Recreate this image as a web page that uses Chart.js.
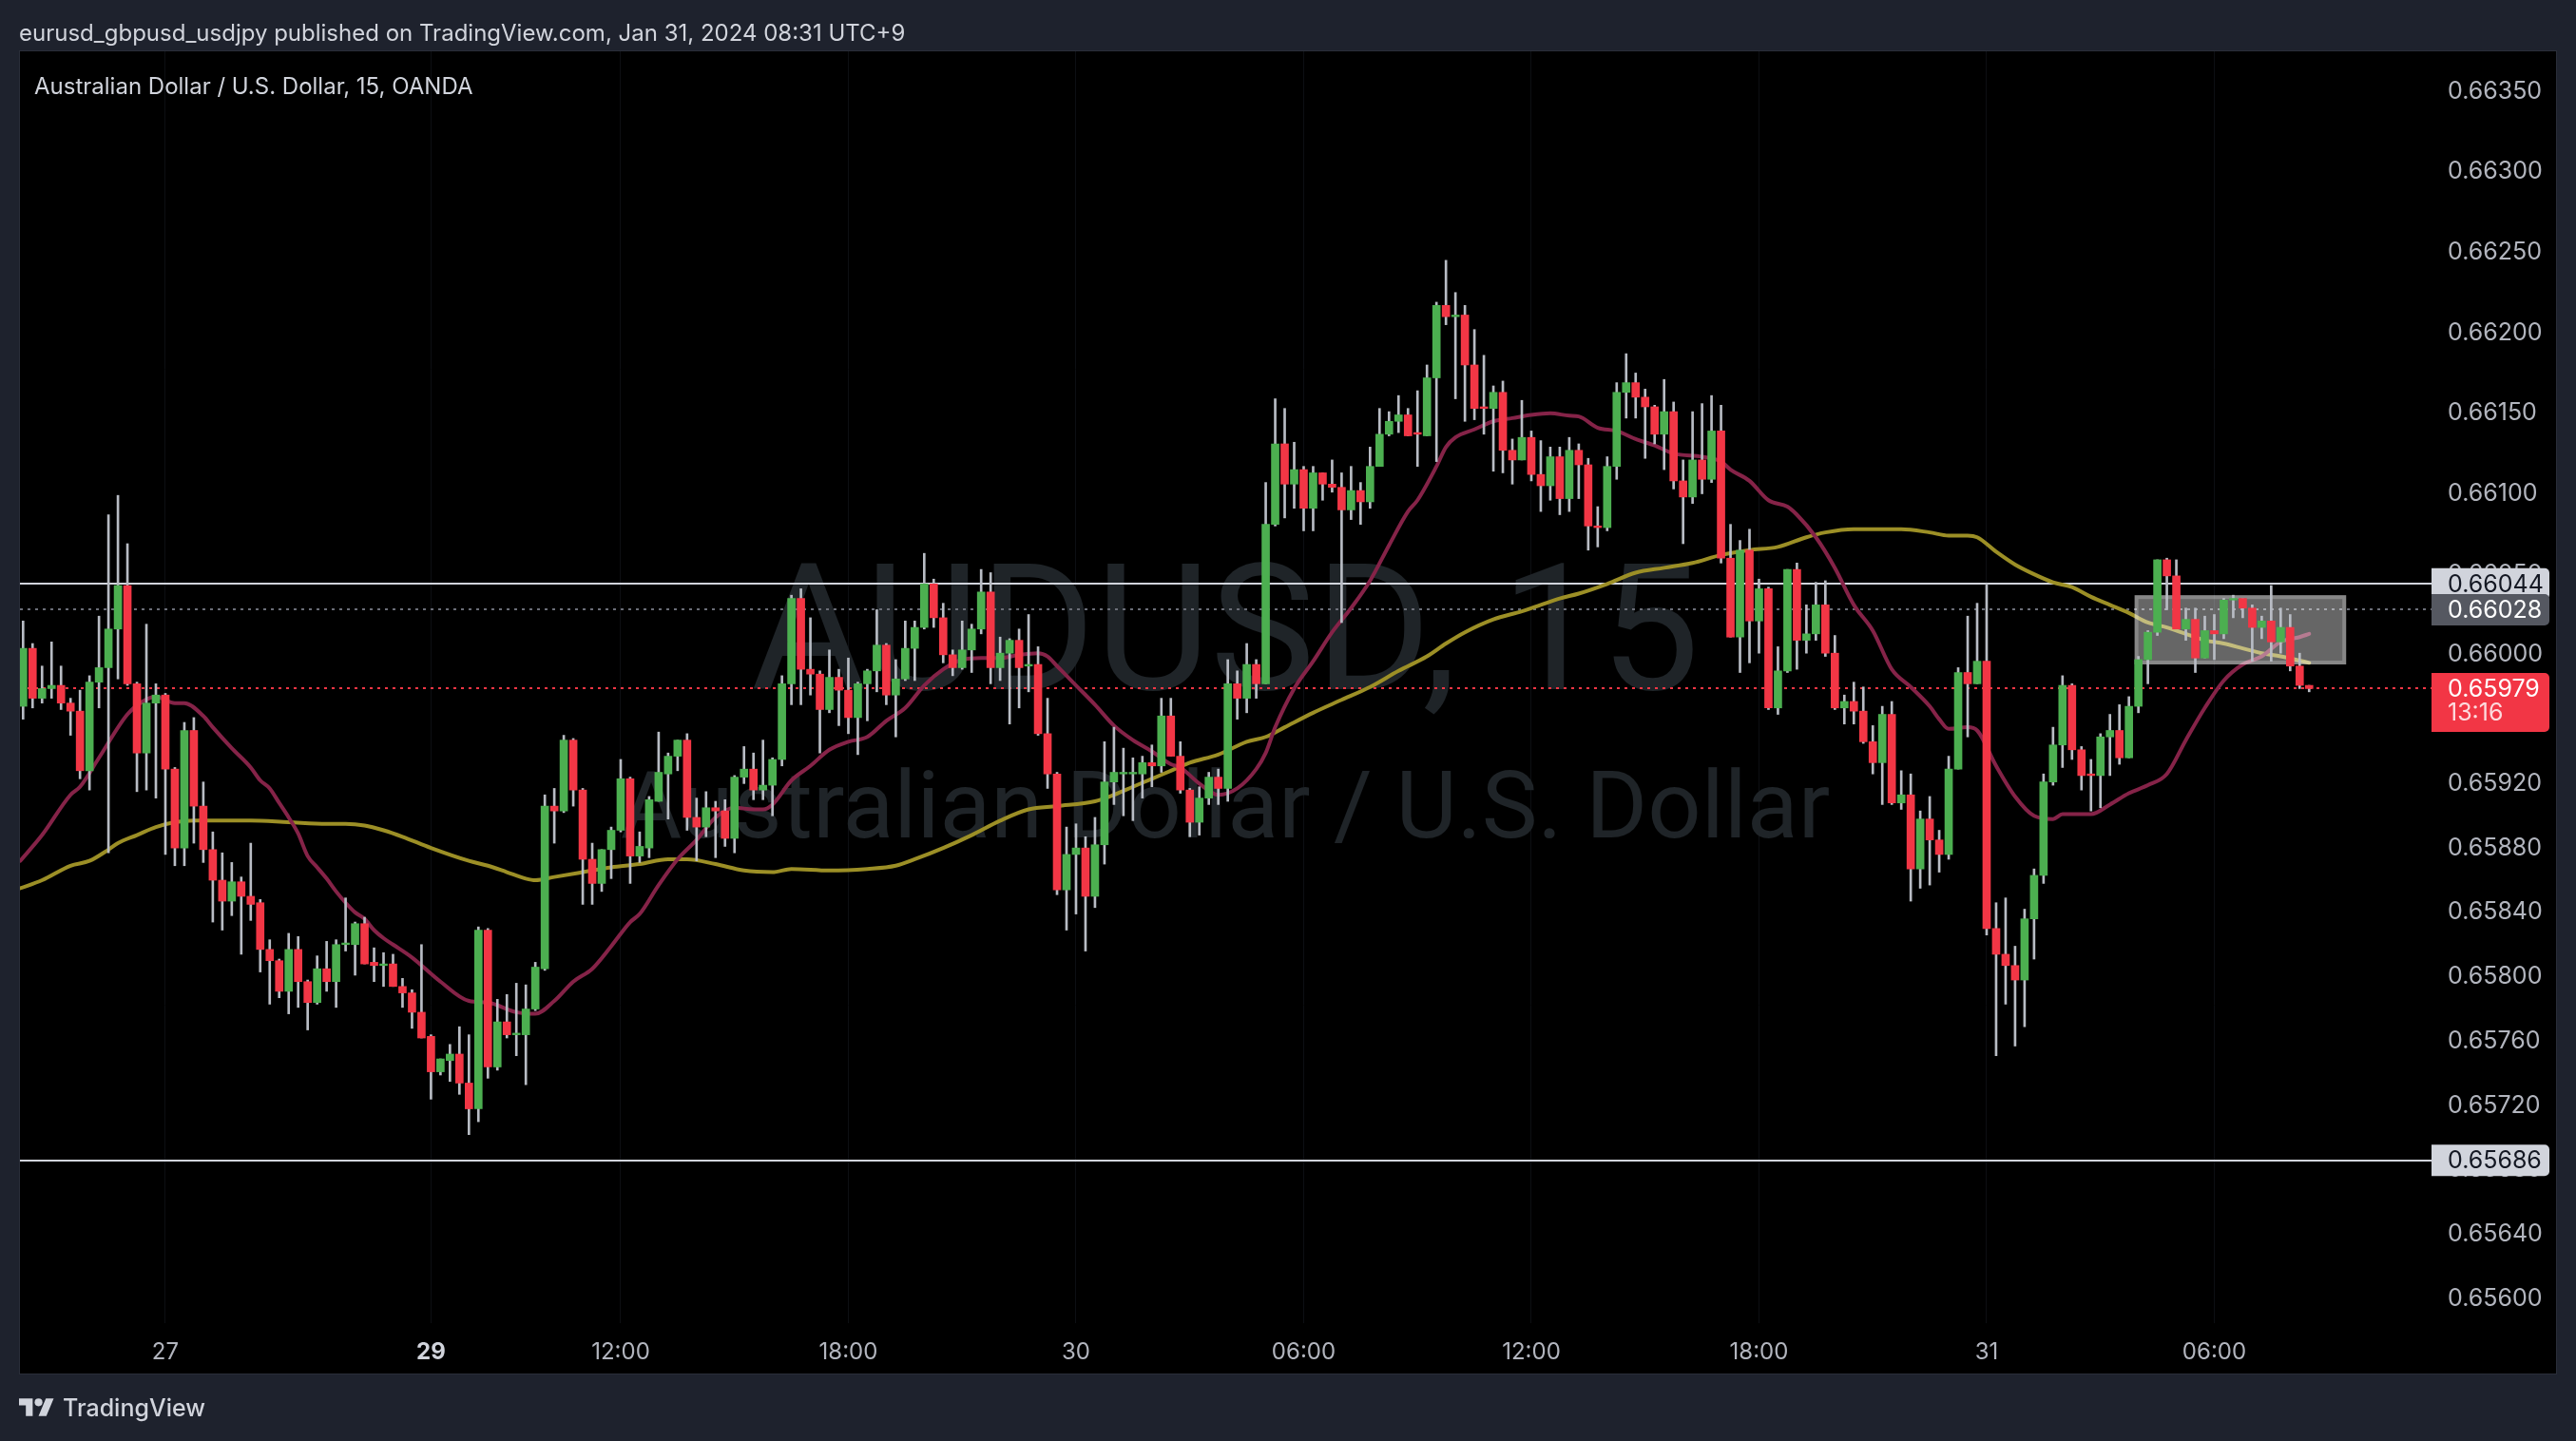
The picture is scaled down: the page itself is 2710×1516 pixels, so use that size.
<!DOCTYPE html>
<html><head><meta charset="utf-8">
<script src="https://cdn.jsdelivr.net/npm/chart.js@4.4.1/dist/chart.umd.min.js"></script>
<style>
html,body{margin:0;padding:0;background:#1e222d;width:2710px;height:1516px;overflow:hidden;font-family:Inter,'Noto Sans',sans-serif;}
#wrap{position:absolute;left:0;top:0;width:2710px;height:1516px;}
canvas{position:absolute;left:0;top:0;}
#hdr{position:absolute;left:20px;top:20px;font-size:24px;color:#d1d4dc;line-height:29px;white-space:nowrap;}
#ttl{position:absolute;left:36px;top:76px;font-size:24px;color:#d1d4dc;line-height:29px;white-space:nowrap;}
#ftr{position:absolute;left:20px;top:1466px;height:30px;display:flex;align-items:center;color:#d1d4dc;font-size:25px;font-weight:500;}
</style></head>
<body>
<div id="wrap">
<canvas id="c" width="2710" height="1516"></canvas>
<div id="hdr">eurusd_gbpusd_usdjpy published on TradingView.com, Jan 31, 2024 08:31 UTC+9</div>
<div id="ttl">Australian Dollar / U.S. Dollar, 15, OANDA</div>
<div id="ftr"><svg width="37" height="29" viewBox="0 0 36 28"><path fill="#d1d4dc" d="M14 22H7V11H0V4h14v18zM28 22h-8l7.5-18h8L28 22z"/><circle fill="#d1d4dc" cx="20" cy="8" r="4"/></svg><span style="margin-left:9px">TradingView</span></div>
</div>
<script>
// ---- time axis ----
const tickIdx = [16, 44, 64, 88, 112, 136, 160, 184, 208, 232];
const tickLabels = ['27', '29', '12:00', '18:00', '30', '06:00', '12:00', '18:00', '31', '06:00'];
// ---- price axis ----
const priceTicks = [0.6635,0.663,0.6625,0.662,0.6615,0.661,0.6605,0.66,0.6596,0.6592,0.6588,0.6584,0.658,0.6576,0.6572,0.6568,0.6564,0.656];

// ---- AUDUSD 15m candles (bar 1 .. 242) ----
const opens = [
0.65968,0.66004,0.65973,0.65979,0.65981,0.65970,0.65965,0.65928,0.65983,0.65992,
0.66016,0.66043,0.65982,0.65939,0.65970,0.65975,0.65929,0.65880,0.65953,0.65906,
0.65879,0.65860,0.65847,0.65859,0.65850,0.65846,0.65817,0.65810,0.65791,0.65817,
0.65797,0.65784,0.65805,0.65797,0.65820,0.65820,0.65833,0.65809,0.65807,0.65808,
0.65794,0.65790,0.65778,0.65763,0.65741,0.65748,0.65752,0.65734,0.65718,0.65829,
0.65744,0.65772,0.65764,0.65764,0.65780,0.65805,0.65906,0.65903,0.65947,0.65916,
0.65873,0.65858,0.65879,0.65891,0.65923,0.65875,0.65880,0.65909,0.65926,0.65937,
0.65947,0.65899,0.65893,0.65905,0.65903,0.65886,0.65924,0.65929,0.65916,0.65919,
0.65935,0.65982,0.66035,0.65991,0.65988,0.65966,0.65986,0.65978,0.65961,0.65982,
0.65990,0.66006,0.65975,0.65985,0.66004,0.66017,0.66044,0.66023,0.66000,0.65992,
0.66003,0.66016,0.66039,0.65992,0.66001,0.66009,0.65993,0.65994,0.65951,0.65926,
0.65854,0.65876,0.65880,0.65850,0.65882,0.65921,0.65926,0.65926,0.65926,0.65933,
0.65931,0.65962,0.65937,0.65916,0.65896,0.65911,0.65924,0.65917,0.65982,0.65973,
0.65994,0.65982,0.66081,0.66131,0.66106,0.66115,0.66091,0.66113,0.66106,0.66104,
0.66090,0.66102,0.66095,0.66117,0.66137,0.66145,0.66149,0.66138,0.66136,0.66172,
0.66217,0.66210,0.66211,0.66180,0.66154,0.66153,0.66163,0.66127,0.66121,0.66135,
0.66112,0.66105,0.66123,0.66097,0.66127,0.66118,0.66080,0.66079,0.66117,0.66163,
0.66169,0.66160,0.66154,0.66137,0.66151,0.66108,0.66098,0.66121,0.66109,0.66139,
0.66060,0.66011,0.66065,0.66021,0.66041,0.65967,0.65990,0.66053,0.66009,0.66013,
0.66031,0.66001,0.65967,0.65971,0.65965,0.65946,0.65933,0.65963,0.65908,0.65913,
0.65867,0.65898,0.65885,0.65876,0.65929,0.65989,0.65982,0.65996,0.65830,0.65814,
0.65807,0.65798,0.65836,0.65863,0.65921,0.65944,0.65981,0.65941,0.65926,0.65925,
0.65949,0.65953,0.65936,0.65968,0.65997,0.66014,0.66059,0.66049,0.66016,0.66022,
0.65998,0.66015,0.66013,0.66034,0.66035,0.66029,0.66017,0.66021,0.66008,0.66017,
0.65993,0.65981];
const highs = [
0.66021,0.66007,0.65993,0.66008,0.65993,0.65973,0.65978,0.65987,0.66024,0.66087,
0.66099,0.66069,0.65983,0.66019,0.65982,0.65976,0.65930,0.65958,0.65961,0.65921,
0.65890,0.65877,0.65871,0.65862,0.65883,0.65848,0.65823,0.65811,0.65827,0.65825,
0.65798,0.65813,0.65822,0.65823,0.65849,0.65834,0.65837,0.65818,0.65815,0.65814,
0.65799,0.65792,0.65820,0.65764,0.65749,0.65758,0.65769,0.65764,0.65831,0.65830,
0.65786,0.65789,0.65796,0.65795,0.65809,0.65913,0.65917,0.65950,0.65948,0.65917,
0.65883,0.65879,0.65893,0.65935,0.65924,0.65890,0.65912,0.65952,0.65939,0.65947,
0.65951,0.65911,0.65915,0.65909,0.65910,0.65925,0.65943,0.65939,0.65947,0.65936,
0.65987,0.66037,0.66041,0.66023,0.65990,0.66003,0.65991,0.65998,0.65983,0.65991,
0.66028,0.66007,0.65997,0.66021,0.66021,0.66063,0.66047,0.66032,0.66003,0.66021,
0.66019,0.66053,0.66051,0.66011,0.66010,0.66016,0.66025,0.66005,0.65973,0.65927,
0.65893,0.65895,0.65887,0.65899,0.65946,0.65955,0.65942,0.65936,0.65937,0.65944,
0.65973,0.65973,0.65946,0.65917,0.65918,0.65927,0.65929,0.65997,0.65990,0.66007,
0.65997,0.66107,0.66159,0.66153,0.66132,0.66117,0.66117,0.66113,0.66121,0.66113,
0.66117,0.66107,0.66129,0.66153,0.66151,0.66161,0.66153,0.66164,0.66180,0.66219,
0.66245,0.66225,0.66217,0.66202,0.66186,0.66167,0.66170,0.66134,0.66158,0.66139,
0.66133,0.66129,0.66129,0.66135,0.66131,0.66122,0.66092,0.66123,0.66169,0.66187,
0.66175,0.66165,0.66155,0.66171,0.66157,0.66121,0.66151,0.66156,0.66161,0.66155,
0.66081,0.66071,0.66078,0.66047,0.66042,0.66005,0.66053,0.66057,0.66031,0.66045,
0.66046,0.66012,0.65975,0.65983,0.65980,0.65956,0.65968,0.65971,0.65928,0.65926,
0.65903,0.65912,0.65891,0.65937,0.65992,0.66024,0.66032,0.66044,0.65846,0.65849,
0.65819,0.65842,0.65867,0.65926,0.65955,0.65987,0.65982,0.65943,0.65935,0.65951,
0.65963,0.65969,0.65974,0.65999,0.66015,0.66059,0.66060,0.66059,0.66029,0.66029,
0.66024,0.66025,0.66035,0.66037,0.66035,0.66031,0.66024,0.66043,0.66029,0.66025,
0.66001,0.65981];
const lows = [
0.65960,0.65967,0.65970,0.65973,0.65966,0.65950,0.65923,0.65916,0.65967,0.65877,
0.65985,0.65981,0.65915,0.65916,0.65911,0.65876,0.65869,0.65869,0.65883,0.65871,
0.65834,0.65829,0.65838,0.65814,0.65835,0.65803,0.65783,0.65787,0.65777,0.65781,
0.65767,0.65783,0.65791,0.65781,0.65816,0.65801,0.65808,0.65797,0.65794,0.65794,
0.65781,0.65768,0.65762,0.65724,0.65739,0.65735,0.65727,0.65702,0.65710,0.65737,
0.65742,0.65762,0.65751,0.65733,0.65779,0.65804,0.65883,0.65902,0.65906,0.65845,
0.65845,0.65853,0.65861,0.65890,0.65858,0.65871,0.65874,0.65909,0.65898,0.65928,
0.65891,0.65872,0.65887,0.65874,0.65881,0.65877,0.65920,0.65910,0.65910,0.65900,
0.65931,0.65969,0.65969,0.65975,0.65939,0.65964,0.65956,0.65951,0.65938,0.65959,
0.65977,0.65969,0.65949,0.65984,0.65984,0.66016,0.66017,0.65995,0.65987,0.65991,
0.65989,0.66013,0.65982,0.65984,0.65957,0.65967,0.65977,0.65950,0.65917,0.65851,
0.65829,0.65839,0.65816,0.65843,0.65870,0.65907,0.65900,0.65897,0.65911,0.65918,
0.65927,0.65937,0.65914,0.65887,0.65888,0.65907,0.65907,0.65909,0.65960,0.65964,
0.65973,0.65982,0.66080,0.66085,0.66091,0.66077,0.66077,0.66096,0.66101,0.66020,
0.66084,0.66081,0.66091,0.66117,0.66136,0.66138,0.66136,0.66117,0.66136,0.66120,
0.66205,0.66159,0.66145,0.66146,0.66137,0.66114,0.66113,0.66106,0.66121,0.66108,
0.66089,0.66096,0.66087,0.66089,0.66097,0.66065,0.66067,0.66077,0.66109,0.66147,
0.66147,0.66122,0.66131,0.66115,0.66103,0.66069,0.66094,0.66100,0.66107,0.66057,
0.66011,0.65989,0.65995,0.66001,0.65966,0.65963,0.65989,0.65991,0.66001,0.66009,
0.65999,0.65966,0.65957,0.65957,0.65945,0.65926,0.65907,0.65907,0.65904,0.65847,
0.65855,0.65857,0.65865,0.65873,0.65929,0.65949,0.65982,0.65826,0.65751,0.65783,
0.65757,0.65769,0.65811,0.65858,0.65919,0.65930,0.65935,0.65916,0.65903,0.65905,
0.65925,0.65932,0.65936,0.65964,0.65982,0.66012,0.66028,0.66016,0.66009,0.65989,
0.65998,0.65997,0.66010,0.66023,0.66023,0.65996,0.66010,0.65996,0.66001,0.65990,
0.65979,0.65977];
const closes = [
0.66004,0.65973,0.65979,0.65981,0.65970,0.65965,0.65928,0.65983,0.65992,0.66016,
0.66043,0.65982,0.65939,0.65970,0.65975,0.65929,0.65880,0.65953,0.65906,0.65879,
0.65860,0.65847,0.65859,0.65850,0.65845,0.65817,0.65810,0.65791,0.65817,0.65797,
0.65784,0.65805,0.65797,0.65820,0.65821,0.65833,0.65808,0.65807,0.65808,0.65794,
0.65790,0.65778,0.65762,0.65741,0.65749,0.65752,0.65734,0.65718,0.65829,0.65744,
0.65772,0.65764,0.65765,0.65780,0.65806,0.65906,0.65903,0.65947,0.65916,0.65873,
0.65858,0.65879,0.65891,0.65923,0.65875,0.65881,0.65910,0.65927,0.65937,0.65947,
0.65899,0.65893,0.65905,0.65903,0.65886,0.65924,0.65929,0.65916,0.65919,0.65935,
0.65982,0.66035,0.65991,0.65988,0.65966,0.65986,0.65978,0.65961,0.65982,0.65990,
0.66006,0.65975,0.65985,0.66004,0.66017,0.66044,0.66023,0.66000,0.65992,0.66003,
0.66016,0.66039,0.65992,0.66001,0.66009,0.65992,0.65994,0.65951,0.65926,0.65854,
0.65876,0.65880,0.65850,0.65882,0.65921,0.65927,0.65927,0.65927,0.65933,0.65931,
0.65962,0.65937,0.65916,0.65896,0.65911,0.65924,0.65917,0.65982,0.65973,0.65994,
0.65982,0.66081,0.66131,0.66106,0.66115,0.66091,0.66113,0.66106,0.66104,0.66090,
0.66102,0.66095,0.66117,0.66137,0.66145,0.66149,0.66136,0.66137,0.66172,0.66217,
0.66210,0.66211,0.66180,0.66153,0.66153,0.66163,0.66127,0.66121,0.66135,0.66112,
0.66105,0.66123,0.66097,0.66127,0.66118,0.66080,0.66079,0.66117,0.66163,0.66169,
0.66160,0.66154,0.66137,0.66151,0.66108,0.66098,0.66121,0.66109,0.66139,0.66060,
0.66011,0.66065,0.66021,0.66041,0.65967,0.65990,0.66053,0.66009,0.66013,0.66031,
0.66001,0.65967,0.65971,0.65965,0.65946,0.65933,0.65963,0.65908,0.65913,0.65867,
0.65898,0.65885,0.65876,0.65929,0.65989,0.65982,0.65996,0.65830,0.65814,0.65807,
0.65798,0.65836,0.65863,0.65921,0.65944,0.65981,0.65941,0.65925,0.65925,0.65949,
0.65953,0.65936,0.65968,0.65997,0.66014,0.66059,0.66049,0.66016,0.66022,0.65998,
0.66015,0.66013,0.66034,0.66035,0.66029,0.66017,0.66021,0.66008,0.66017,0.65993,
0.65981,0.65979];

// ---- moving averages: [bar, value] ----
const maShort = [
[0.7,0.65872],[3,0.65888],[6,0.65913],[7,0.65918],[9,0.65936],[12,0.65963],[13.6,0.65971],[15,0.65974],[17,0.65970],[18,0.65970],
[20,0.65962],[21,0.65955],[23,0.65942],[25,0.65930],[26,0.65922],[27,0.65917],[28,0.65908],[29,0.65899],[30,0.65889],[31,0.65875],
[32,0.65868],[33,0.65861],[34,0.65853],[35,0.65846],[36,0.65840],[37,0.65836],[38,0.65829],[39,0.65824],[40,0.65820],[42,0.65812],
[45,0.65797],[48,0.65785],[50,0.65784],[53,0.65778],[55,0.65777],[57,0.65785],[59,0.65797],[61,0.65805],[63,0.65819],[65,0.65834],
[66,0.65839],[68,0.65857],[70,0.65873],[72,0.65885],[74,0.65899],[76,0.65905],[78,0.65904],[79,0.65904],[80,0.65907],[82,0.65922],
[84,0.65931],[86,0.65941],[88,0.65946],[90,0.65949],[92,0.65959],[94,0.65967],[96,0.65981],[98,0.65991],[100,0.65997],[102,0.65998],
[104,0.65998],[106,0.66000],[108,0.66001],[109,0.65999],[110,0.65993],[112,0.65981],[114,0.65969],[116,0.65956],[118,0.65947],[120,0.65940],
[122,0.65932],[123,0.65930],[125,0.65920],[127,0.65913],[129,0.65917],[131,0.65929],[132,0.65939],[133,0.65955],[135,0.65979],[137,0.65996],
[139,0.66014],[141,0.66029],[143,0.66046],[145,0.66068],[147,0.66089],[148,0.66096],[150,0.66117],[151,0.66129],[152,0.66135],[154,0.66140],
[156,0.66145],[158,0.66147],[160,0.66149],[162,0.66150],[164,0.661485],[165,0.66148],[167,0.66141],[169,0.66139],[171,0.66134],[173,0.66130],
[175,0.66125],[178,0.66123],[180,0.66120],[181,0.66115],[183,0.66108],[185,0.66096],[187,0.66092],[188,0.66087],[190,0.66073],[192,0.66054],
[194,0.66031],[196,0.66015],[198,0.65991],[200,0.65980],[202,0.65968],[203,0.65960],[204,0.65954],[206,0.65955],[207,0.65953],[209,0.65931],
[211,0.65912],[213,0.65900],[215,0.65898],[216,0.65901],[219,0.65901],[221,0.65907],[223,0.65914],[225,0.65919],[227,0.65926],[229,0.65947],
[231,0.65967],[233,0.65984],[235,0.65994],[237,0.65999],[239,0.66008],[241,0.66011],[242,0.66013]];
const maLong = [
[0.7,0.65855],[3,0.65860],[6,0.65869],[8,0.65872],[10,0.65879],[11,0.65883],[13,0.65888],[15,0.65893],[17,0.65896],[19,0.65897],
[21,0.65897],[25,0.65897],[29,0.65896],[33,0.65895],[35,0.65895],[37,0.65894],[39,0.65891],[41,0.65887],[44,0.65880],[48,0.65872],
[50,0.65869],[52,0.65865],[54,0.65861],[55,0.65860],[57,0.65862],[60,0.65865],[63,0.65868],[66,0.65870],[69,0.65873],[71,0.65873],
[74,0.65870],[77,0.65866],[80,0.65865],[82,0.65867],[86,0.65866],[90,0.65867],[93,0.65869],[95,0.65873],[98,0.65880],[101,0.65888],
[104,0.65897],[107,0.65904],[110,0.65906],[114,0.65909],[116,0.65913],[118,0.65918],[120,0.65923],[122,0.65928],[124,0.65933],[127,0.65938],
[130,0.65946],[132,0.65949],[134,0.65955],[137,0.65964],[140,0.65972],[143,0.65980],[146,0.65990],[149,0.65999],[151,0.66007],[153,0.66014],
[156,0.66022],[159,0.66027],[161,0.66031],[163,0.66035],[165,0.66038],[168,0.66044],[171,0.66051],[174,0.66054],[177,0.66057],[180,0.66062],
[183,0.66065],[186,0.66067],[189,0.66073],[191,0.66076],[194,0.66078],[197,0.66078],[199,0.66078],[202,0.66076],[204,0.66074],[206,0.66074],
[207,0.66073],[209,0.66064],[211,0.66056],[213,0.66050],[215,0.66045],[217,0.66042],[219,0.66036],[221,0.66031],[223,0.66026],[225,0.66020],
[227,0.66017],[229,0.66013],[231,0.66009],[233,0.66007],[235,0.66004],[237,0.66001],[239,0.65999],[242,0.65995]];

// ---- drawings ----
const levelSolid = [0.66044, 0.65686];
const levelGray = 0.66028;
const lastPrice = 0.65979;
const countdown = '13:16';
const boxBars = [223.6, 245.9];
const boxPrices = [0.66037, 0.65994];
const watermarkMain = 'AUDUSD, 15';
const watermarkSub = 'Australian Dollar / U.S. Dollar';

const UP = '#4caf50', DOWN = '#f23645';
const bars = opens.map((o, i) => i + 1);
const bodyColors = opens.map((o, i) => closes[i] >= o ? UP : DOWN);

const tvPlugin = {
  id: 'tv',
  beforeDraw(chart) {
    const ctx = chart.ctx, ca = chart.chartArea;
    ctx.save();
    ctx.fillStyle = '#1e222d';
    ctx.fillRect(0, 0, chart.width, chart.height);
    const L = ca.left, T = ca.top, R = chart.width - 21, B = chart.height - 71;
    ctx.fillStyle = '#000000';
    ctx.fillRect(L, T, R - L, B - T);
    ctx.strokeStyle = '#2a2e39';
    ctx.lineWidth = 1;
    ctx.strokeRect(L - 0.5, T - 0.5, R - L + 1, B - T + 1);
    ctx.restore();
  },
  beforeDatasetsDraw(chart) {
    const ctx = chart.ctx, ca = chart.chartArea, y = chart.scales.y;
    ctx.save();
    const cx = (ca.left + ca.right) / 2;
    ctx.fillStyle = '#1f2428';
    ctx.textAlign = 'center';
    ctx.textBaseline = 'alphabetic';
    ctx.font = '186px Roboto';
    ctx.fillText(watermarkMain, cx, 725);
    ctx.font = '99px Roboto';
    ctx.fillText(watermarkSub, cx, 881);
    const x0 = ca.left, x1 = ca.right + 1;
    ctx.lineWidth = 2;
    ctx.strokeStyle = '#d1d4dc';
    levelSolid.forEach(v => {
      const py = Math.round(y.getPixelForValue(v));
      ctx.beginPath(); ctx.moveTo(x0, py); ctx.lineTo(x1, py); ctx.stroke();
    });
    ctx.setLineDash([3, 5]);
    ctx.strokeStyle = '#6b6e78';
    let py = Math.round(y.getPixelForValue(levelGray));
    ctx.beginPath(); ctx.moveTo(x0, py); ctx.lineTo(x1, py); ctx.stroke();
    ctx.strokeStyle = '#f23645';
    py = Math.round(y.getPixelForValue(lastPrice));
    ctx.beginPath(); ctx.moveTo(x0, py); ctx.lineTo(x1, py); ctx.stroke();
    ctx.restore();
  },
  beforeDatasetDraw(chart, args) {
    if (args.index !== 2) return;
    const ctx = chart.ctx, xs = chart.scales.x, ys = chart.scales.y;
    const l = xs.getPixelForValue(boxBars[0]), r = xs.getPixelForValue(boxBars[1]);
    const t = ys.getPixelForValue(boxPrices[0]), b = ys.getPixelForValue(boxPrices[1]);
    ctx.save();
    ctx.fillStyle = 'rgba(255,255,255,0.40)';
    ctx.fillRect(l, t, r - l, b - t);
    ctx.strokeStyle = 'rgba(255,255,255,0.22)';
    ctx.lineWidth = 4;
    ctx.strokeRect(l + 2, t + 2, r - l - 4, b - t - 4);
    ctx.restore();
  },
  afterDraw(chart) {
    const ctx = chart.ctx, ca = chart.chartArea, ys = chart.scales.y;
    const bx = ca.right + 1, bw = 124, tx = 2575;
    ctx.save();
    ctx.font = '25px Inter';
    ctx.textAlign = 'left';
    ctx.textBaseline = 'middle';
    function tag(v, bg, fg, h) {
      const py = ys.getPixelForValue(v);
      ctx.fillStyle = bg;
      ctx.beginPath();
      ctx.roundRect(bx, py - 16.5, bw, h, [0, 5, 5, 0]);
      ctx.fill();
      ctx.fillStyle = fg;
      ctx.fillText(v.toFixed(5), tx, py + 1);
      return py;
    }
    tag(levelSolid[0], '#d1d4dc', '#131722', 33);
    tag(levelGray, '#555861', '#ffffff', 33);
    tag(levelSolid[1], '#d1d4dc', '#131722', 33);
    const py = tag(lastPrice, '#f23645', '#ffffff', 62);
    ctx.fillStyle = 'rgba(255,255,255,0.82)';
    ctx.fillText(countdown, tx, py + 26);
    ctx.restore();
  }
};

function draw() {
  Chart.defaults.font.family = 'Inter';
  new Chart(document.getElementById('c'), {
    type: 'bar',
    data: {
      datasets: [
        { type: 'line', label: 'MA long', data: maLong.map(p => ({x: p[0], y: p[1]})),
          borderColor: '#9c8f26', borderWidth: 4, pointRadius: 0, fill: false,
          cubicInterpolationMode: 'monotone', borderCapStyle: 'round', borderJoinStyle: 'round', order: 5 },
        { type: 'line', label: 'MA short', data: maShort.map(p => ({x: p[0], y: p[1]})),
          borderColor: '#852348', borderWidth: 4, pointRadius: 0, fill: false,
          cubicInterpolationMode: 'monotone', borderCapStyle: 'round', borderJoinStyle: 'round', order: 4 },
        { type: 'bar', label: 'wicks', data: bars.map((n, i) => ({x: n, y: [lows[i], highs[i]]})),
          backgroundColor: '#b8bcc4', barThickness: 2, grouped: false, borderWidth: 0, order: 2 },
        { type: 'bar', label: 'bodies', data: bars.map((n, i) => ({x: n, y: [opens[i], closes[i]]})),
          backgroundColor: bodyColors, barThickness: 8, grouped: false, borderWidth: 0, order: 1 }
      ]
    },
    options: {
      responsive: false, animation: false, devicePixelRatio: 1,
      layout: { padding: { left: 21, right: 21, top: 54, bottom: 71 } },
      plugins: { legend: { display: false }, tooltip: { enabled: false } },
      scales: {
        x: {
          type: 'linear', min: 0.67, max: 254.8, offset: false, position: 'bottom',
          grid: { display: true, color: '#0d0f13', drawTicks: false, offset: false },
          border: { display: false },
          afterBuildTicks: s => { s.ticks = tickIdx.map(v => ({value: v})); },
          afterFit: s => { s.height = 53; },
          ticks: {
            autoSkip: false, maxRotation: 0, padding: 16,
            callback: v => tickLabels[tickIdx.indexOf(v)],
            color: c => (c.tick && tickLabels[tickIdx.indexOf(c.tick.value)] === '29') ? '#d1d4dc' : '#b2b5be',
            font: c => ({ family: 'Inter', size: 24,
              weight: (c.tick && tickLabels[tickIdx.indexOf(c.tick.value)] === '29') ? 'bold' : 'normal' })
          }
        },
        y: {
          position: 'right', min: 0.655849, max: 0.663748,
          grid: { display: false, drawTicks: false },
          border: { display: false },
          afterBuildTicks: s => { s.ticks = priceTicks.map(v => ({value: v})); },
          afterFit: s => { s.width = 132; },
          ticks: { padding: 18, color: '#b2b5be', font: { family: 'Inter', size: 25 },
            callback: v => Number(v).toFixed(5) }
        }
      }
    },
    plugins: [tvPlugin]
  });
}
const fontLoads = ['25px Inter', '186px Roboto', 'bold 24px Inter'].map(f => document.fonts.load(f).catch(() => null));
Promise.all(fontLoads).then(draw, draw);
</script>
</body></html>
